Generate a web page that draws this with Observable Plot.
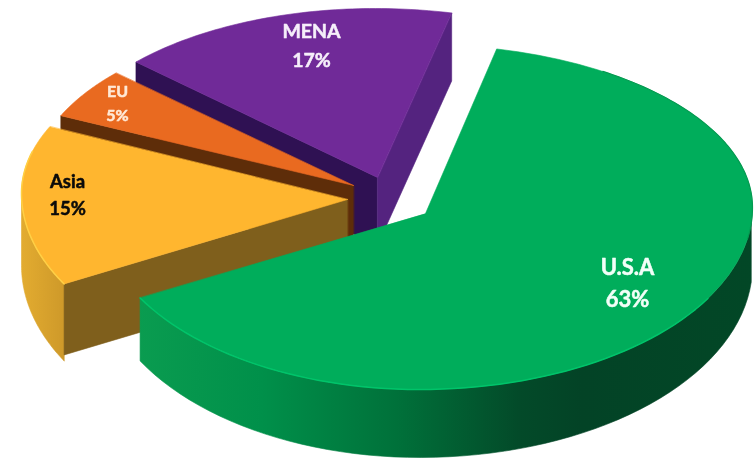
<!DOCTYPE html>
<html>
<head>
<meta charset="utf-8">
<script src="https://cdn.jsdelivr.net/npm/d3@7"></script>
<script src="https://cdn.jsdelivr.net/npm/@observablehq/plot@0.6"></script>
<style>html,body{margin:0;padding:0;background:#fff}</style>
</head>
<body>
<div id="chart"></div>
<script>
// Data (clockwise, starting with U.S.A)
const regions = ["U.S.A", "Asia", "EU", "MENA"];
const shares = [63, 15, 5, 17];

// Drawing layout of the exploded 3D pie, separate from the data
const startAngle = 13.4;
const radiusRight = 333, radiusLeft = 322, radiusBack = 163, radiusFront = 182;
const centersX = [419, 343, 354, 374];
const centersY = [207, 193, 182, 171];
const apexX = [425, 347, 353, 377];
const apexY = [213, 199, 185, 177];
const topColors = ["#00ad5b", "#ffb62f", "#e96a20", "#702a98"];
const labelX = [627, 67, 117, 311];
const labelY = [280.5, 192, 101, 43];
const labelSize = [22, 18.5, 16, 19.5];
const labelHeight = [1.42, 1.5, 1.45, 1.45];
const labelColor = ["#f2fff8", "#0a0a0a", "#ffe9d6", "#f6effa"];

const rad = d => d * Math.PI / 180;
let acc = startAngle;
const spans = shares.map(s => { const a0 = acc; acc += s * 3.6; return [a0, acc]; });

const px = (i, t) => centersX[i] + (Math.sin(rad(t)) >= 0 ? radiusRight : radiusLeft) * Math.sin(rad(t));
function rimPoint(i, t) {
  const r = Math.cos(rad(t)) >= 0 ? radiusBack : radiusFront;
  return { x: px(i, t), y: centersY[i] - r * Math.cos(rad(t)) };
}
function floorPoint(i, t, shift) {
  return { x: px(i, t), y: centersY[i] + shift - (radiusFront + 10) * Math.cos(rad(t)) };
}
const arc = (i, a, b) => d3.range(0, 61).map(k => rimPoint(i, a + (b - a) * k / 60));
const arcFloor = (i, a, b, shift) => d3.range(0, 61).map(k => floorPoint(i, a + (b - a) * k / 60, shift));
const apex = i => ({ x: apexX[i], y: apexY[i] });
const drop = (p, h) => ({ x: p.x, y: p.y + h });

const shape = (pts, fill) => Plot.line(pts, {
  x: "x", y: "y", curve: "linear-closed", fill, stroke: fill, strokeWidth: 0.6
});
const topFace = i => shape([apex(i), ...arc(i, spans[i][0], spans[i][1])], topColors[i]);
const cutWall = (i, t, fill, h = 68) => {
  const o = rimPoint(i, t), a = apex(i);
  return shape([a, o, drop(o, h), drop(a, h)], fill);
};
const outerWall = (i, a, b, shift, fill) =>
  shape([...arc(i, a, b), ...arcFloor(i, a, b, shift).reverse()], fill);

function gradient(parent, id, x1, x2, stops) {
  const g = parent.append("linearGradient").attr("id", id)
    .attr("gradientUnits", "userSpaceOnUse")
    .attr("x1", x1).attr("x2", x2).attr("y1", 0).attr("y2", 0);
  stops.forEach(([o, c]) => g.append("stop").attr("offset", o).attr("stop-color", c));
}
const defs = () => {
  const d = d3.create("svg:defs");
  gradient(d, "greenWall", 137, 753, [[0, "#0a9c50"], [0.2, "#00904a"], [0.42, "#00713a"],
    [0.62, "#034a29"], [0.72, "#034326"], [1, "#024726"]]);
  gradient(d, "asiaWall", 20, 62, [[0, "#e3ac30"], [1, "#cf9a2a"]]);
  return d.node();
};

const [USA, ASIA, EU, MENA] = [0, 1, 2, 3];
const plot = Plot.plot({
  width: 754,
  height: 458,
  margin: 0,
  style: { background: "#fff", filter: "blur(0.45px)" },
  x: { domain: [0, 754], axis: null },
  y: { domain: [0, 458], reverse: true, axis: null },
  marks: [
    defs,
    // MENA
    cutWall(MENA, spans[MENA][0], "#2f1153"),
    cutWall(MENA, spans[MENA][1], "#54237f"),
    topFace(MENA),
    // EU
    cutWall(EU, spans[EU][0], "#5e2d09"),
    topFace(EU),
    // Asia
    outerWall(ASIA, spans[ASIA][0], 270, 72, "url(#asiaWall)"),
    cutWall(ASIA, spans[ASIA][0], "#7f5f1c", 71),
    topFace(ASIA),
    Plot.line(arc(ASIA, spans[ASIA][0], 285), { x: "x", y: "y", stroke: "#ffd045", strokeWidth: 1.5 }),
    // U.S.A
    outerWall(USA, 95, spans[USA][1], 58, "url(#greenWall)"),
    topFace(USA),
    Plot.line(arc(USA, 120, spans[USA][1]), { x: "x", y: "y", stroke: "#00c46a", strokeWidth: 1.5 }),
    Plot.line(arc(USA, spans[USA][0] + 20, 100), { x: "x", y: "y", stroke: "#039a50", strokeWidth: 1.2 }),
    // Labels
    ...regions.map((r, i) => Plot.text([`${r}\n${shares[i]}%`], {
      x: () => labelX[i], y: () => labelY[i], text: d => d,
      fontFamily: "Lato", fontWeight: 700, fontSize: labelSize[i],
      fill: labelColor[i], stroke: labelColor[i], strokeWidth: 0.5,
      lineHeight: labelHeight[i], textAnchor: "middle"
    }))
  ]
});
document.getElementById("chart").append(plot);
</script>
</body>
</html>
